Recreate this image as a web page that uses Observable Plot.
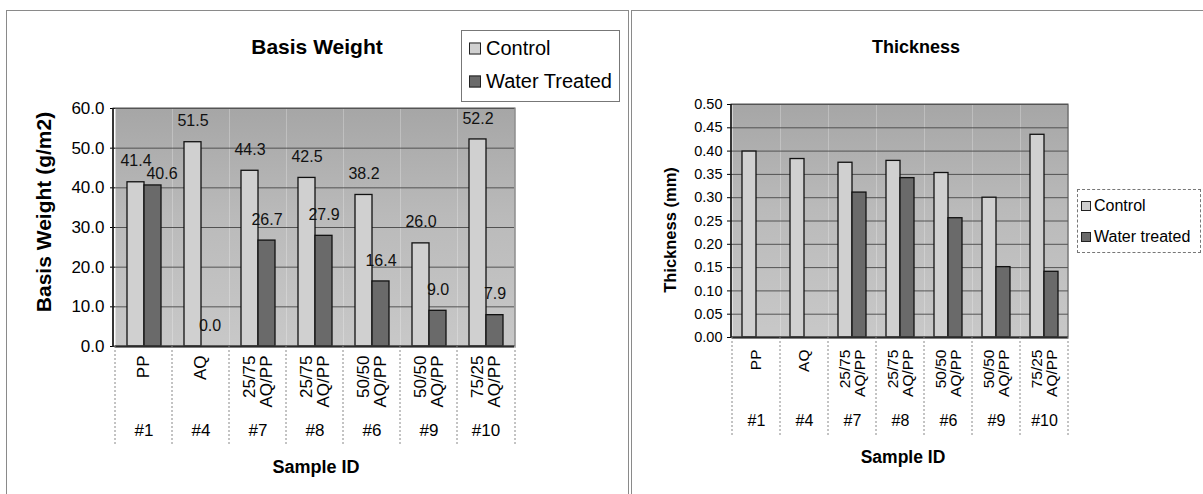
<!DOCTYPE html>
<html><head><meta charset="utf-8">
<script src="https://cdn.jsdelivr.net/npm/d3@7"></script>
<script src="https://cdn.jsdelivr.net/npm/@observablehq/plot@0.6"></script>
<style>
body{margin:0;background:#fff;font-family:"Liberation Sans",Arial,sans-serif;}
#wrap{position:relative;width:1203px;height:494px;overflow:hidden;background:#fff;}
.box{position:absolute;top:10px;height:484px;border-top:1px solid #8a8a8a;border-left:1px solid #8a8a8a;}
.abs{position:absolute;white-space:nowrap;color:#000;}
.title{font-weight:bold;transform:translate(-50%,-50%);}
.ytitle{font-weight:bold;transform:translate(-50%,-50%) rotate(-90deg);}
.xtitle{font-weight:bold;transform:translate(-50%,-50%);}
.legend{position:absolute;background:#fff;}
.legend .row{position:absolute;display:flex;align-items:center;transform:translateY(-50%);}
.legend .sw{display:inline-block;border:1px solid #222;box-sizing:border-box;flex:none;}
.plotsvg{position:absolute;top:0;}
</style>
</head><body>
<div id="wrap">
  <div class="box" style="left:6px;width:621px;border-right:1px solid #8a8a8a;"></div>
  <div class="box" style="left:631px;width:572px;"></div>
</div>
<script>
// ---- data ----
const sampleIds = ["#1", "#4", "#7", "#8", "#6", "#9", "#10"];
const sampleNames = ["PP", "AQ", "25/75\nAQ/PP", "25/75\nAQ/PP", "50/50\nAQ/PP", "50/50\nAQ/PP", "75/25\nAQ/PP"];
const seriesKeys = ["Control", "Water"];
const bwControl = [41.4, 51.5, 44.3, 42.5, 38.2, 26.0, 52.2];
const bwWater = [40.6, 0.0, 26.7, 27.9, 16.4, 9.0, 7.9];
const thControl = [0.399, 0.383, 0.375, 0.379, 0.353, 0.300, 0.435];
const thWater = [null, null, 0.311, 0.342, 0.256, 0.151, 0.141];
const bwTicks = [0, 10, 20, 30, 40, 50, 60];
const thTicks = [0, 0.05, 0.10, 0.15, 0.20, 0.25, 0.30, 0.35, 0.40, 0.45, 0.50];
const bwLegend = ["Control", "Water Treated"];
const thLegend = ["Control", "Water treated"];
const colors = ["#d0d0d0", "#6a6a6a"];

function rows(ctrl, water, span) {
  const out = [];
  sampleIds.forEach((id, i) => {
    if (ctrl[i] != null) out.push({id, series: "Control", value: ctrl[i], near: false});
    if (water[i] != null) out.push({id, series: "Water", value: water[i],
      near: ctrl[i] != null && Math.abs(ctrl[i] - water[i]) < span * 0.05});
  });
  return out;
}
const nameOf = Object.fromEntries(sampleIds.map((d, i) => [d, sampleNames[i]]));

function makeChart(cfg) {
  const span = cfg.domain[1] - cfg.domain[0];
  const data = rows(cfg.ctrl, cfg.water, span);
  const fmt = d => d.value.toFixed(1);
  const chart = Plot.plot({
    width: cfg.width, height: 494,
    marginLeft: cfg.ml, marginRight: cfg.mr, marginTop: cfg.mt, marginBottom: cfg.mb,
    style: {fontFamily: "Liberation Sans, Arial, sans-serif", fontSize: cfg.fs + "px", color: "#000", background: "transparent", overflow: "visible"},
    fx: {domain: sampleIds, padding: 0, label: null},
    x: {domain: seriesKeys, paddingInner: 0, paddingOuter: cfg.po, axis: null},
    y: {domain: cfg.domain, label: null},
    color: {domain: seriesKeys, range: colors},
    marks: [
      Plot.frame({fill: `url(#${cfg.grad})`, stroke: null}),
      Plot.gridY(cfg.ticks, {stroke: "#474747", strokeOpacity: 0.9, strokeWidth: 1}),
      Plot.barY(data, {fx: "id", x: "series", y: "value", fill: "series", stroke: "#111", strokeWidth: 1.3}),
      cfg.labels ? Plot.text(data.filter(d => !d.near), {fx: "id", x: "series", y: "value", text: fmt, dy: -21, fontSize: cfg.lfs, fill: "#111"}) : null,
      cfg.labels ? Plot.text(data.filter(d => d.near), {fx: "id", x: "series", y: "value", text: fmt, dx: 9, dy: -12, fontSize: cfg.lfs, fill: "#111"}) : null,
      Plot.ruleY([0], {stroke: "#000", strokeWidth: 2}),
      Plot.axisY({ticks: cfg.ticks, tickFormat: d => d.toFixed(cfg.dec), tickSize: 5, tickPadding: cfg.tp, label: null, fontSize: cfg.fs}),
      Plot.axisFx({anchor: "bottom", tickSize: 0, tickRotate: -90, tickPadding: cfg.np, tickFormat: d => nameOf[d], label: null, fontSize: cfg.xfs}),
      Plot.axisFx({anchor: "bottom", tickSize: 0, tickPadding: cfg.ip, tickFormat: d => d, label: null, fontSize: cfg.ifs})
    ]
  });
  chart.classList.add("plotsvg");
  chart.style.left = cfg.left + "px";
  const svg = d3.select(chart);
  const defs = svg.insert("defs", ":first-child");
  const g = defs.append("linearGradient").attr("id", cfg.grad).attr("x1", 0).attr("y1", 0).attr("x2", 0).attr("y2", 1);
  g.append("stop").attr("offset", "0%").attr("stop-color", "#a6a6a6");
  g.append("stop").attr("offset", "45%").attr("stop-color", "#bababa");
  g.append("stop").attr("offset", "100%").attr("stop-color", "#c8c8c8");
  const fx = chart.scale("fx");
  const bottom = 494 - cfg.mb;
  const edges = fx.domain.map(d => fx.apply(d)).concat([fx.range[1]]);
  const over = svg.append("g");
  over.append("rect").attr("x", cfg.ml).attr("y", cfg.mt).attr("width", cfg.width - cfg.ml - cfg.mr).attr("height", bottom - cfg.mt)
    .attr("fill", "none").attr("stroke", "#555").attr("stroke-width", 1);
  over.append("line").attr("x1", cfg.ml).attr("x2", cfg.ml).attr("y1", cfg.mt).attr("y2", bottom).attr("stroke", "#111").attr("stroke-width", 1.5);
  over.selectAll("line.sep").data(edges).join("line").attr("class", "sep")
    .attr("x1", d => d).attr("x2", d => d).attr("y1", bottom).attr("y2", bottom + cfg.sep)
    .attr("stroke", "#888").attr("stroke-dasharray", "2,2");
  document.getElementById("wrap").appendChild(chart);
  return chart;
}

makeChart({left: 0, width: 627, ml: 113, mr: 112, mt: 108, mb: 148, po: 0.6, fs: 17, tp: 6, lfs: 16, xfs: 17, ifs: 17,
  domain: [0, 60], ticks: bwTicks, dec: 1, ctrl: bwControl, water: bwWater, labels: true, grad: "gL", np: 9, ip: 77, sep: 99});
makeChart({left: 630, width: 573, ml: 101, mr: 135, mt: 104, mb: 157, po: 0.66, fs: 14.5, tp: 5, lfs: 14, xfs: 15.5, ifs: 16,
  domain: [0, 0.5], ticks: thTicks, dec: 2, ctrl: thControl, water: thWater, labels: false, grad: "gR", np: 12, ip: 77, sep: 98});

function addText(cls, text, x, y, fs) {
  const d = document.createElement("div");
  d.className = "abs " + cls;
  d.textContent = text;
  d.style.left = x + "px"; d.style.top = y + "px"; d.style.fontSize = fs + "px";
  document.getElementById("wrap").appendChild(d);
}
addText("title", "Basis Weight", 317, 47, 21);
addText("title", "Thickness", 916, 47, 18);
addText("ytitle", "Basis Weight (g/m2)", 44, 212, 21);
addText("ytitle", "Thickness (mm)", 670, 230, 16.5);
addText("xtitle", "Sample ID", 316, 467, 18);
addText("xtitle", "Sample ID", 903, 457, 17.5);

function addLegend(labels, x, y, w, h, fs, sw, rowYs, swX, gap, border) {
  const L = document.createElement("div");
  L.className = "legend";
  Object.assign(L.style, {left: x + "px", top: y + "px", width: w + "px", height: h + "px", border: border, boxSizing: "border-box"});
  labels.forEach((lab, i) => {
    const r = document.createElement("div");
    r.className = "row";
    r.style.top = rowYs[i] + "px";
    r.style.left = swX + "px";
    const s = document.createElement("span");
    s.className = "sw";
    Object.assign(s.style, {width: sw + "px", height: sw + "px", background: colors[i], marginRight: gap + "px"});
    const t = document.createElement("span");
    t.textContent = lab; t.style.fontSize = fs + "px";
    r.appendChild(s); r.appendChild(t);
    L.appendChild(r);
  });
  document.getElementById("wrap").appendChild(L);
}
addLegend(bwLegend, 461, 30, 159, 72, 20, 12, [17, 50], 7, 5, "1px solid #777");
addLegend(thLegend, 1077, 189, 124, 64, 16, 10, [16, 47], 3, 3, "1px dashed #777");
</script>
</body></html>
